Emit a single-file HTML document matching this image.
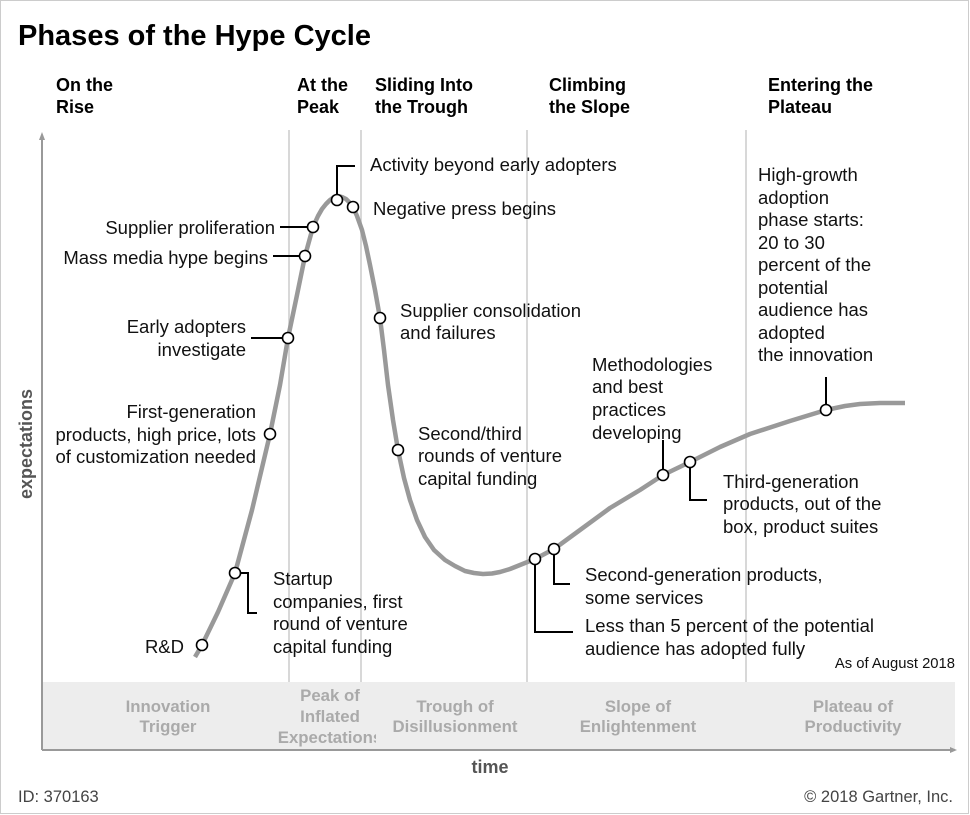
<!DOCTYPE html>
<html><head><meta charset="utf-8"><style>
html,body{margin:0;padding:0;background:#fff}
svg{display:block}
text{font-family:"Liberation Sans",Arial,sans-serif}
.l{font-size:18.5px;fill:#111}
.h{font-size:18px;font-weight:bold;fill:#000}
.b{font-size:16.8px;font-weight:bold;fill:#aaa;text-anchor:middle}
.r{text-anchor:end}
</style></head><body>
<svg width="970" height="815" viewBox="0 0 970 815" xmlns="http://www.w3.org/2000/svg">
<rect x="0.5" y="0.5" width="968" height="813" fill="#fff" stroke="#ccc"/>
<text x="18" y="45" style="font-size:29px;font-weight:bold">Phases of the Hype Cycle</text>
<text class="h" x="56" y="91">On the</text><text class="h" x="56" y="113">Rise</text>
<text class="h" x="297" y="91">At the</text><text class="h" x="297" y="113">Peak</text>
<text class="h" x="375" y="91">Sliding Into</text><text class="h" x="375" y="113">the Trough</text>
<text class="h" x="549" y="91">Climbing</text><text class="h" x="549" y="113">the Slope</text>
<text class="h" x="768" y="91">Entering the</text><text class="h" x="768" y="113">Plateau</text>
<rect x="42" y="682" width="913" height="68" fill="#ededed"/>
<g stroke="#ccc" stroke-width="1.5">
<line x1="289" y1="130" x2="289" y2="682"/><line x1="361" y1="130" x2="361" y2="682"/>
<line x1="527" y1="130" x2="527" y2="682"/><line x1="746" y1="130" x2="746" y2="682"/>
</g>
<g stroke="#999" stroke-width="2" fill="#999">
<line x1="42" y1="136" x2="42" y2="750"/><line x1="42" y1="750" x2="953" y2="750"/>
<path d="M39,140 L42,132 L45,140Z" stroke="none"/><path d="M950,747 L957,750 L950,753Z" stroke="none"/>
</g>
<polyline fill="none" stroke="#999" stroke-width="4.5" stroke-linejoin="round" points="195,657 202,645 218,612 235,573 252,510 270,434 280,385 288,338 297,295 305,256 313,227 318,216 322,209 326,204 330,200 334,197 338,196 342,197 346,199 350,203 353,207 357,216 362,230 366,246 370,265 375,290 380,318 384,350 388,385 393,420 398,450 404,478 410,500 417,520 425,537 434,550 445,560 455,566 465,571 474,573 483,574 492,573.5 500,572 510,569 520,565 535,559 554,549 580,530 610,508 640,490 663,475 690,462 720,447 750,434 790,421 826,410 845,406 860,404 880,403 905,403"/>
<g stroke="#000" stroke-width="2" fill="none">
<polyline points="337,200 337,166 355,166"/>
<line x1="280" y1="227" x2="308" y2="227"/>
<line x1="273" y1="256" x2="300" y2="256"/>
<line x1="251" y1="338" x2="283" y2="338"/>
<polyline points="663,470 663,440"/>
<polyline points="690,467 690,500 707,500"/>
<line x1="826" y1="405" x2="826" y2="377"/>
<polyline points="554,554 554,584 570,584"/>
<polyline points="535,564 535,632 573,632"/>
<polyline points="240,573 248,573 248,613 257,613"/>
</g>
<g fill="#fff" stroke="#000" stroke-width="1.6">
<circle cx="202" cy="645" r="5.5"/><circle cx="235" cy="573" r="5.5"/><circle cx="270" cy="434" r="5.5"/>
<circle cx="288" cy="338" r="5.5"/><circle cx="305" cy="256" r="5.5"/><circle cx="313" cy="227" r="5.5"/>
<circle cx="337" cy="200" r="5.5"/><circle cx="353" cy="207" r="5.5"/><circle cx="380" cy="318" r="5.5"/>
<circle cx="398" cy="450" r="5.5"/><circle cx="535" cy="559" r="5.5"/><circle cx="554" cy="549" r="5.5"/>
<circle cx="663" cy="475" r="5.5"/><circle cx="690" cy="462" r="5.5"/><circle cx="826" cy="410" r="5.5"/>
</g>
<text class="l" x="370" y="171">Activity beyond early adopters</text>
<text class="l" x="373" y="215">Negative press begins</text>
<text class="l r" x="275" y="234">Supplier proliferation</text>
<text class="l r" x="268" y="264">Mass media hype begins</text>
<text class="l r" x="246" y="333">Early adopters</text><text class="l r" x="246" y="356">investigate</text>
<text class="l r" x="256" y="418">First-generation</text><text class="l r" x="256" y="441">products, high price, lots</text><text class="l r" x="256" y="463">of customization needed</text>
<text class="l" x="400" y="317">Supplier consolidation</text><text class="l" x="400" y="339">and failures</text>
<text class="l" x="418" y="440">Second/third</text><text class="l" x="418" y="462">rounds of venture</text><text class="l" x="418" y="485">capital funding</text>
<text class="l" x="592" y="371">Methodologies</text><text class="l" x="592" y="393">and best</text><text class="l" x="592" y="416">practices</text><text class="l" x="592" y="439">developing</text>
<text class="l" x="758" y="181">High-growth</text><text class="l" x="758" y="204">adoption</text><text class="l" x="758" y="226">phase starts:</text><text class="l" x="758" y="249">20 to 30</text><text class="l" x="758" y="271">percent of the</text><text class="l" x="758" y="294">potential</text><text class="l" x="758" y="316">audience has</text><text class="l" x="758" y="339">adopted</text><text class="l" x="758" y="361">the innovation</text>
<text class="l" x="723" y="488">Third-generation</text><text class="l" x="723" y="510">products, out of the</text><text class="l" x="723" y="533">box, product suites</text>
<text class="l" x="585" y="581">Second-generation products,</text><text class="l" x="585" y="604">some services</text>
<text class="l" x="585" y="632">Less than 5 percent of the potential</text><text class="l" x="585" y="655">audience has adopted fully</text>
<text class="l" x="273" y="585">Startup</text><text class="l" x="273" y="608">companies, first</text><text class="l" x="273" y="630">round of venture</text><text class="l" x="273" y="653">capital funding</text>
<text class="l r" x="184" y="653">R&amp;D</text>
<text class="r" x="955" y="668" style="font-size:14.8px;fill:#111">As of August 2018</text>
<text class="b" x="168" y="712">Innovation</text><text class="b" x="168" y="732">Trigger</text>
<svg x="270" y="682" width="106" height="68" overflow="hidden"><text class="b" x="60" y="19">Peak of</text><text class="b" x="60" y="40">Inflated</text><text class="b" x="60" y="61">Expectations</text></svg>
<text class="b" x="455" y="712">Trough of</text><text class="b" x="455" y="732">Disillusionment</text>
<text class="b" x="638" y="712">Slope of</text><text class="b" x="638" y="732">Enlightenment</text>
<text class="b" x="853" y="712">Plateau of</text><text class="b" x="853" y="732">Productivity</text>
<text transform="translate(32,444) rotate(-90)" text-anchor="middle" style="font-size:18px;font-weight:bold;fill:#555">expectations</text>
<text x="490" y="773" text-anchor="middle" style="font-size:18px;font-weight:bold;fill:#555">time</text>
<text x="18" y="802" style="font-size:16.5px;fill:#444">ID: 370163</text>
<text x="953" y="802" text-anchor="end" style="font-size:16.5px;fill:#444">© 2018 Gartner, Inc.</text>
</svg>
</body></html>
